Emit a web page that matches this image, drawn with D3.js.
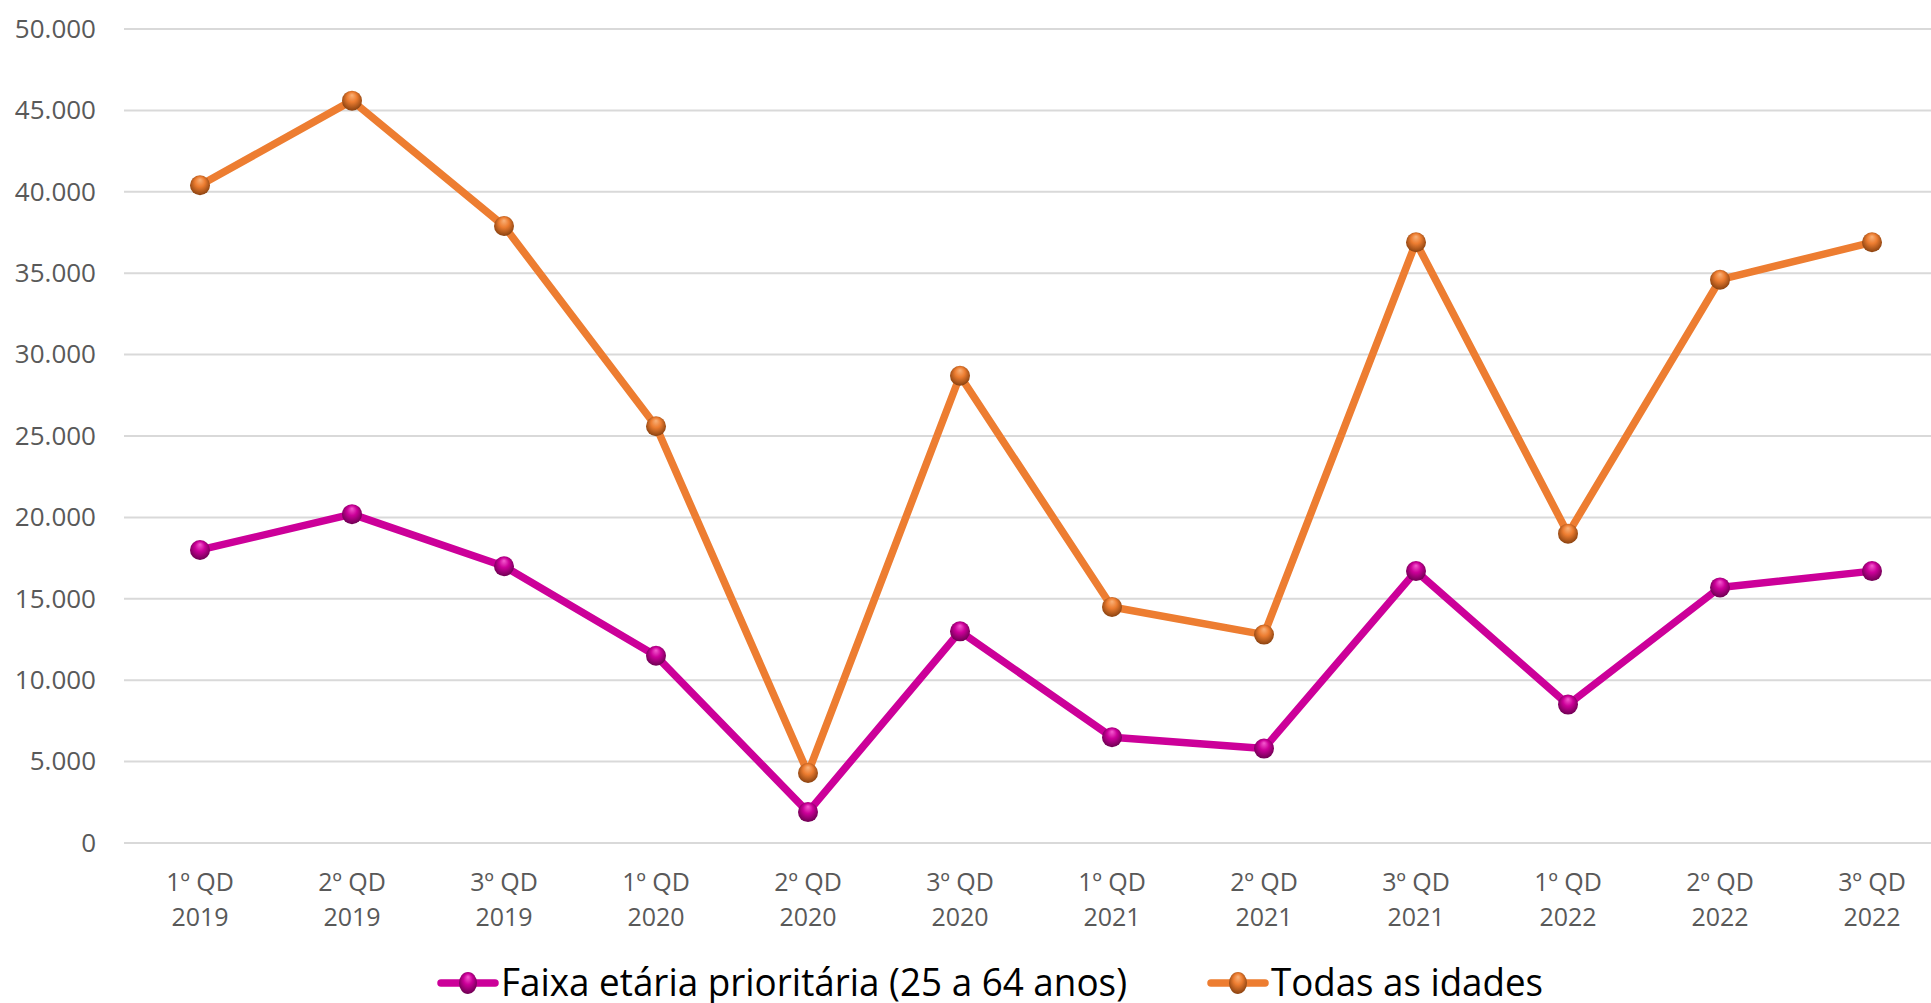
<!DOCTYPE html>
<html lang="pt">
  <head>
    <meta charset="utf-8">
    <title>Faixa etária</title>
    <script src="https://d3js.org/d3.v7.min.js"></script>
    <style>
      body { margin: 0; background: #fff; }
      svg { display: block; }
    </style>
  </head>
  <body>
    <script type="text/javascript">
    // chart data
    var quarters = ["1º QD", "2º QD", "3º QD", "1º QD", "2º QD", "3º QD",
                    "1º QD", "2º QD", "3º QD", "1º QD", "2º QD", "3º QD"];
    var years = ["2019", "2019", "2019", "2020", "2020", "2020",
                 "2021", "2021", "2021", "2022", "2022", "2022"];
    var prioritaria = [18000, 20200, 17000, 11500, 1900, 13000,
                       6500, 5800, 16700, 8500, 15700, 16700];
    var todas = [40400, 45600, 37900, 25600, 4300, 28700,
                 14500, 12800, 36900, 19000, 34600, 36900];
    var seriesNames = ["Faixa etária prioritária (25 a 64 anos)", "Todas as idades"];
    var yTicks = [0, 5000, 10000, 15000, 20000, 25000, 30000, 35000, 40000, 45000, 50000];

    var w = 1931;
    var h = 1003;
    var padLeft = 124, padRight = 1948, padTop = 29, padBottom = 843;

    var series = [
      { name: seriesNames[0], values: prioritaria, color: "#CC0099", light: "#F55CD0", dark: "#6E0052", id: "gMag" },
      { name: seriesNames[1], values: todas, color: "#ED7D31", light: "#F9B27A", dark: "#8A4210", id: "gOra" }
    ];

    var pt = d3.formatLocale({ decimal: ",", thousands: ".", grouping: [3], currency: ["", ""] });
    var fmt = pt.format(",");

    var xScale = d3.scaleBand()
                   .domain(d3.range(quarters.length))
                   .range([padLeft, padRight])
                   .padding(0);

    var yScale = d3.scaleLinear()
                   .domain([0, 50000])
                   .range([padBottom, padTop]);

    var svg = d3.select("body")
                .append("svg")
                .attr("width", w)
                .attr("height", h);

    var defs = svg.append("defs");
    series.forEach(function(s) {
      var g = defs.append("radialGradient")
                  .attr("id", s.id)
                  .attr("cx", "50%").attr("cy", "45%").attr("r", "55%")
                  .attr("fx", "50%").attr("fy", "22%");
      g.append("stop").attr("offset", "0%").attr("stop-color", s.light);
      g.append("stop").attr("offset", "45%").attr("stop-color", s.color);
      g.append("stop").attr("offset", "100%").attr("stop-color", s.dark);
    });

    // gridlines
    svg.append("g")
       .selectAll("line")
       .data(yTicks)
       .enter()
       .append("line")
       .attr("x1", padLeft)
       .attr("x2", w)
       .attr("y1", function(d) { return yScale(d); })
       .attr("y2", function(d) { return yScale(d); })
       .attr("stroke", "#D9D9D9")
       .attr("stroke-width", 2);

    // y axis labels
    var yAxis = d3.axisLeft(yScale)
                  .tickValues(yTicks)
                  .tickFormat(fmt)
                  .tickSize(0)
                  .tickPadding(0);

    var yg = svg.append("g")
                .attr("transform", "translate(96,0)")
                .call(yAxis);
    yg.select(".domain").remove();
    yg.selectAll("text")
      .attr("font-family", "'Open Sans', sans-serif")
      .attr("font-size", "26px")
      .attr("fill", "#595959");

    // x axis labels (two lines)
    var xl = svg.append("g")
                .selectAll("text")
                .data(quarters)
                .enter()
                .append("text")
                .attr("text-anchor", "middle")
                .attr("font-family", "'Open Sans', sans-serif")
                .attr("font-size", "25px")
                .attr("fill", "#595959");
    xl.append("tspan")
      .attr("x", function(d, i) { return xScale(i) + xScale.bandwidth() / 2; })
      .attr("y", 891)
      .text(function(d) { return d; });
    xl.append("tspan")
      .attr("x", function(d, i) { return xScale(i) + xScale.bandwidth() / 2; })
      .attr("y", 926)
      .text(function(d, i) { return years[i]; });

    var line = d3.line()
                 .x(function(d, i) { return xScale(i) + xScale.bandwidth() / 2; })
                 .y(function(d) { return yScale(d); });

    series.forEach(function(s) {
      svg.append("path")
         .datum(s.values)
         .attr("d", line)
         .attr("fill", "none")
         .attr("stroke", s.color)
         .attr("stroke-width", 7.5)
         .attr("stroke-linejoin", "round");
    });

    series.forEach(function(s) {
      svg.append("g")
         .selectAll("circle")
         .data(s.values)
         .enter()
         .append("circle")
         .attr("cx", function(d, i) { return xScale(i) + xScale.bandwidth() / 2; })
         .attr("cy", function(d) { return yScale(d); })
         .attr("r", 10)
         .attr("fill", "url(#" + s.id + ")");
    });

    // legend
    var legendX = [441, 1211];
    var legendW = [626, 272];
    var legendY = 983;
    series.forEach(function(s, i) {
      var lg = svg.append("g");
      lg.append("line")
        .attr("x1", legendX[i]).attr("x2", legendX[i] + 54)
        .attr("y1", legendY).attr("y2", legendY)
        .attr("stroke", s.color)
        .attr("stroke-width", 7.5)
        .attr("stroke-linecap", "round");
      lg.append("ellipse")
        .attr("cx", legendX[i] + 27)
        .attr("cy", legendY)
        .attr("rx", 9).attr("ry", 11)
        .attr("fill", "url(#" + s.id + ")");
      lg.append("text")
        .attr("x", legendX[i] + 60)
        .attr("y", 996)
        .attr("font-family", "'Open Sans', sans-serif")
        .attr("font-size", "38px")
        .attr("fill", "#000")
        .attr("textLength", legendW[i])
        .attr("lengthAdjust", "spacingAndGlyphs")
        .text(s.name);
    });
    </script>
  </body>
</html>
